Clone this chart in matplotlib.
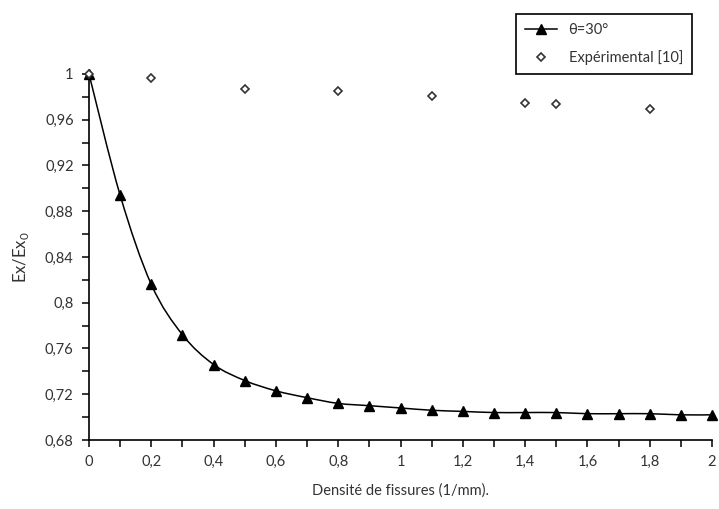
import numpy as np
import matplotlib
matplotlib.use("Agg")
import matplotlib.pyplot as plt
from matplotlib.path import Path
from matplotlib.patches import PathPatch
from matplotlib.lines import Line2D
from matplotlib.ticker import MultipleLocator, FuncFormatter

plt.rcParams['font.family'] = ['Lato', 'DejaVu Sans']

# model curve, theta = 30 deg
density = [0.0, 0.1, 0.2, 0.3, 0.4, 0.5, 0.6, 0.7, 0.8, 0.9, 1.0,
           1.1, 1.2, 1.3, 1.4, 1.5, 1.6, 1.7, 1.8, 1.9, 2.0]
ratio_30 = [1.0, 0.894, 0.816, 0.772, 0.746, 0.732, 0.723, 0.717, 0.712, 0.710, 0.708,
            0.706, 0.705, 0.704, 0.704, 0.704, 0.703, 0.703, 0.703, 0.702, 0.702]

# experimental points [10]
exp_density = [0.0, 0.2, 0.5, 0.8, 1.1, 1.4, 1.5, 1.8]
exp_ratio = [1.0, 0.9965, 0.987, 0.9855, 0.981, 0.975, 0.974, 0.969]


def smooth_path(xs, ys, t=1/6):
    # Excel-like smoothed line: cubic bezier segments through every point
    xs, ys = np.asarray(xs), np.asarray(ys)
    n = len(xs)
    verts = [(xs[0], ys[0])]
    codes = [Path.MOVETO]
    for i in range(n - 1):
        p0 = np.array([xs[max(i - 1, 0)], ys[max(i - 1, 0)]])
        p1 = np.array([xs[i], ys[i]])
        p2 = np.array([xs[i + 1], ys[i + 1]])
        p3 = np.array([xs[min(i + 2, n - 1)], ys[min(i + 2, n - 1)]])
        c1 = p1 + (p2 - p0) * t
        c2 = p2 - (p3 - p1) * t
        verts += [tuple(c1), tuple(c2), tuple(p2)]
        codes += [Path.CURVE4] * 3
    return Path(verts, codes)


fig = plt.figure(figsize=(7.19, 5.09), dpi=100)
ax = fig.add_axes([89/719, 69/509, 623/719, 366/509])

ax.add_patch(PathPatch(smooth_path(density, ratio_30), fill=False,
                       edgecolor='black', lw=1.1, zorder=3))
ax.plot(density, ratio_30, ls='none', marker='^', ms=7, color='black', zorder=4, clip_on=False)
ax.plot(exp_density, exp_ratio, ls='none', marker='D', ms=4.5, mfc='white',
        mec='#333333', mew=1.2, zorder=5, clip_on=False)

ax.set_xlim(0, 2)
ax.set_ylim(0.68, 1.0)
ax.xaxis.set_major_locator(MultipleLocator(0.2))
ax.xaxis.set_minor_locator(MultipleLocator(0.1))
ax.yaxis.set_major_locator(MultipleLocator(0.04))
ax.yaxis.set_minor_locator(MultipleLocator(0.02))

comma = FuncFormatter(lambda v, p: f"{v:.2f}".rstrip('0').rstrip('.').replace('.', ','))
ax.xaxis.set_major_formatter(comma)
ax.yaxis.set_major_formatter(comma)

for side in ['top', 'right']:
    ax.spines[side].set_visible(False)
for side in ['left', 'bottom']:
    ax.spines[side].set_linewidth(1.2)
    ax.spines[side].set_color('black')
ax.tick_params(which='both', direction='out', length=5, width=1.1, color='black')
ax.tick_params(labelsize=10.5, labelcolor='#333333', pad=6)

ax.set_xlabel('Densité de fissures (1/mm).', fontsize=10.5, color='#333333', labelpad=10)
ax.set_ylabel(r'Ex/Ex$_{\mathregular{0}}$', fontsize=12, color='#333333', labelpad=10)

handles = [
    Line2D([], [], color='black', lw=1.1, marker='^', ms=7),
    Line2D([], [], ls='none', marker='D', ms=4.5, mfc='white', mec='#333333', mew=1.2),
]
leg = fig.legend(handles, ['θ=30°', 'Expérimental [10]'], loc='upper right',
                 bbox_to_anchor=(699/719, 1 - 7/509), fancybox=False, edgecolor='black',
                 framealpha=1, fontsize=10.5, handlelength=2.2, labelspacing=0.9,
                 borderpad=0.6)
leg.get_frame().set_linewidth(1.2)
for txt in leg.get_texts():
    txt.set_color('#333333')

fig.savefig('out.png', dpi=100)
